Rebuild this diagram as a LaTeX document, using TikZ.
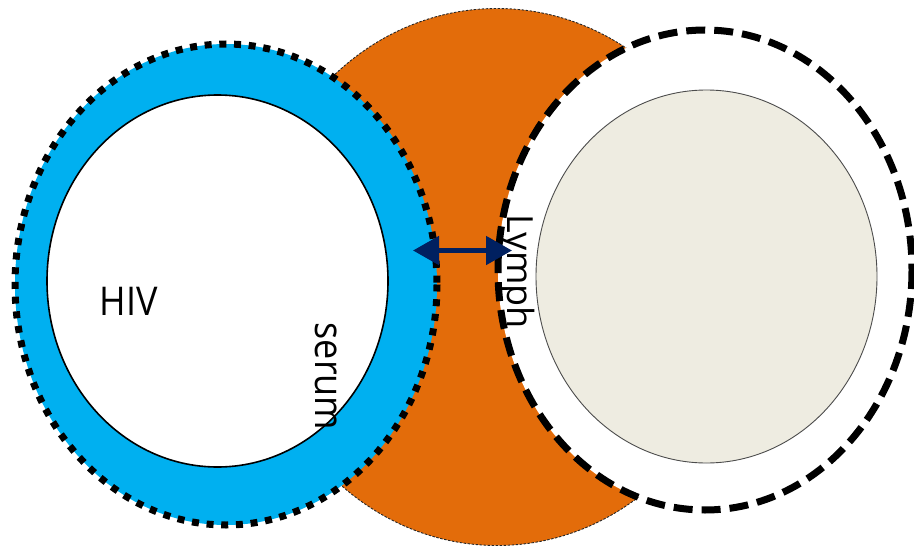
\documentclass[tikz,border=0pt]{standalone}
\usepackage{fontspec}
\setmainfont{Open Sans}
\usetikzlibrary{arrows.meta}

\definecolor{cellorange}{RGB}{227,108,10}
\definecolor{serumblue}{RGB}{0,176,240}
\definecolor{lymphbeige}{RGB}{238,236,225}
\definecolor{arrownavy}{RGB}{0,32,96}

\tikzset{
  sheath/.style={draw=black!85, line width=0.9pt, dash pattern=on 2.5pt off 1.5pt},
  serumring/.style={draw=black, line width=7pt, dash pattern=on 7pt off 7.7pt},
  lymphring/.style={draw=black, line width=7pt, dash pattern=on 19pt off 9pt},
  core/.style={draw=black, line width=1.6pt, fill=white},
  nucleus/.style={draw=black!70, line width=0.9pt, fill=lymphbeige},
  label/.style={font=\fontsize{36}{40}\selectfont, text=black, inner sep=0pt},
  exchange/.style={draw=arrownavy, line width=5pt,
    {Triangle[length=26pt,width=28pt]}-{Triangle[length=26pt,width=28pt]}}
}

\begin{document}
\begin{tikzpicture}[x=1pt,y=-1pt]
  \useasboundingbox (0,0) rectangle (914,546);

  % central cell body
  \fill[cellorange] (497,277) ellipse [x radius=247, y radius=268.5];
  \draw[sheath] (497,277) ellipse [x radius=247, y radius=268.5];

  % serum ring around the virus
  \fill[serumblue] (226,284.5) ellipse [x radius=211, y radius=240.5];
  \draw[serumring] (226,284.5) ellipse [x radius=211, y radius=240.5];
  \draw[core] (217.5,281) ellipse [x radius=170.5, y radius=186];

  % lymphocyte
  \fill[white] (705,270) ellipse [x radius=207, y radius=240];
  \draw[lymphring] (705,270) ellipse [x radius=207, y radius=240];
  \draw[nucleus] (706.5,276.5) ellipse [x radius=170.5, y radius=186.5];

  % exchange arrow
  \coordinate (leftend) at (413,250.5);
  \coordinate (rightend) at (512,250.5);
  \draw[exchange] (leftend) -- (rightend);

  % labels
  \node[label, anchor=base] (hiv) at (128.5,315) {\scalebox{1}[1.1]{HIV}};
  \node[label, anchor=base, rotate=-90] (serum) at (315,376.5) {\scalebox{1}[1.1]{serum}};
  \node[label, anchor=base, rotate=-90] (lymph) at (507.5,271.5) {Lymph};
\end{tikzpicture}
\end{document}
